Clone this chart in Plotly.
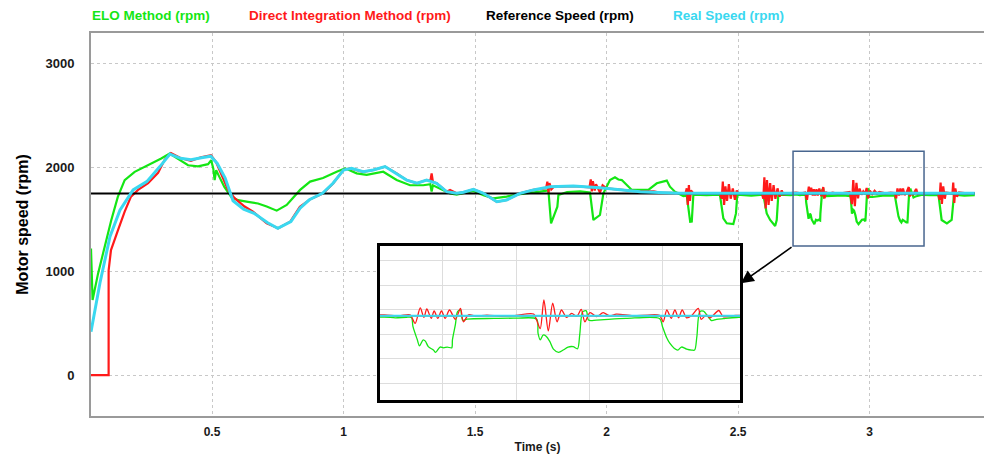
import plotly.graph_objects as go

# ---------------- data ----------------
elo_t = [0.040, 0.042, 0.046, 0.067, 0.092, 0.117, 0.142, 0.168, 0.206, 0.257, 0.307, 0.339, 0.371, 0.409,
         0.447, 0.485, 0.497, 0.505, 0.510, 0.516, 0.528, 0.547, 0.573, 0.599, 0.637, 0.675, 0.708, 0.746,
         0.784, 0.835, 0.873, 0.922, 0.974, 1.006, 1.050, 1.088, 1.151, 1.202, 1.253, 1.303, 1.330, 1.335,
         1.340, 1.379, 1.405, 1.430, 1.460, 1.494, 1.532, 1.570, 1.620, 1.671, 1.747, 1.779, 1.789, 1.800,
         1.813, 1.817, 1.850, 1.900, 1.937, 1.950, 1.962, 1.975, 1.988, 2.013, 2.032, 2.045, 2.058, 2.077,
         2.096, 2.127, 2.159, 2.191, 2.210, 2.229, 2.241, 2.260, 2.292, 2.305, 2.318, 2.324, 2.330, 2.380,
         2.431, 2.444, 2.457, 2.482, 2.492, 2.497, 2.550, 2.596, 2.609, 2.622, 2.641, 2.647, 2.653, 2.700,
         2.720, 2.735, 2.750, 2.757, 2.759, 2.765, 2.768, 2.773, 2.776, 2.780, 2.787, 2.790, 2.796, 2.801,
         2.806, 2.812, 2.813, 2.817, 2.820, 2.824, 2.827, 2.833, 2.870, 2.900, 2.928, 2.930, 2.933, 2.937,
         2.941, 2.946, 2.951, 2.958, 2.965, 2.971, 2.978, 2.984, 2.987, 2.991, 2.996, 2.999, 3.010, 3.050,
         3.096, 3.100, 3.106, 3.110, 3.116, 3.121, 3.126, 3.133, 3.140, 3.144, 3.147, 3.151, 3.156, 3.163,
         3.167, 3.174, 3.183, 3.201, 3.230, 3.262, 3.274, 3.294, 3.312, 3.321, 3.360, 3.400]
elo_v = [1220, 1050, 723, 980, 1236, 1493, 1718, 1879, 1959, 2023, 2088, 2136, 2088, 2023,
         2013, 2033, 2071, 1990, 1879, 1975, 1911, 1814, 1718, 1686, 1670, 1654, 1625, 1585,
         1640, 1785, 1865, 1900, 1960, 1993, 1945, 1930, 1960, 1880, 1830, 1830, 1840, 1770,
         1830, 1785, 1750, 1740, 1755, 1775, 1735, 1703, 1720, 1745, 1768, 1780, 1463, 1540,
         1623, 1736, 1765, 1770, 1760, 1495, 1515, 1543, 1752, 1880, 1906, 1885, 1880, 1832,
         1785, 1785, 1785, 1849, 1865, 1875, 1816, 1768, 1726, 1730, 1478, 1480, 1740, 1735,
         1740, 1511, 1463, 1455, 1558, 1740, 1730, 1740, 1558, 1495, 1437, 1495, 1740, 1735,
         1742, 1735, 1740, 1738, 1665, 1556, 1506, 1556, 1545, 1500, 1473, 1454, 1497, 1490,
         1497, 1490, 1556, 1680, 1785, 1799, 1715, 1725, 1730, 1732, 1725, 1608, 1556, 1595,
         1585, 1543, 1480, 1454, 1475, 1497, 1500, 1483, 1600, 1785, 1792, 1717, 1717, 1730,
         1730, 1665, 1570, 1528, 1488, 1472, 1497, 1480, 1472, 1472, 1580, 1785, 1790, 1740,
         1713, 1722, 1728, 1738, 1735, 1735, 1495, 1463, 1495, 1740, 1730, 1735]

di_t = [0.040, 0.107, 0.107, 0.116, 0.143, 0.168, 0.192, 0.219, 0.257, 0.295, 0.320, 0.344, 0.382, 0.420,
        0.458, 0.496, 0.515, 0.534, 0.561, 0.586, 0.624, 0.656, 0.708, 0.752, 0.797, 0.834, 0.873, 0.923,
        0.961, 0.999, 1.025, 1.075, 1.113, 1.158, 1.202, 1.240, 1.278, 1.316, 1.330, 1.335, 1.340, 1.354,
        1.392, 1.405, 1.430, 1.456, 1.494, 1.532, 1.583, 1.620, 1.671, 1.722, 1.770, 1.775, 1.779, 1.783,
        1.790, 1.800, 1.874, 1.935, 1.940, 1.944, 1.948, 1.955, 1.960, 1.975, 1.985, 2.000, 2.051, 2.128,
        2.180, 2.200, 2.280, 2.300, 2.305, 2.309, 2.313, 2.317, 2.321, 2.330, 2.430, 2.438, 2.442, 2.447,
        2.452, 2.458, 2.465, 2.472, 2.480, 2.488, 2.495, 2.500, 2.590, 2.596, 2.600, 2.605, 2.610, 2.616,
        2.622, 2.628, 2.635, 2.642, 2.650, 2.658, 2.666, 2.672, 2.700, 2.720, 2.740, 2.755, 2.762, 2.769,
        2.774, 2.778, 2.784, 2.788, 2.793, 2.798, 2.803, 2.809, 2.817, 2.824, 2.828, 2.835, 2.845, 2.860,
        2.880, 2.900, 2.924, 2.928, 2.933, 2.938, 2.944, 2.950, 2.956, 2.962, 2.969, 2.976, 2.983, 2.989,
        2.994, 3.001, 3.010, 3.019, 3.028, 3.037, 3.060, 3.080, 3.096, 3.101, 3.106, 3.112, 3.117, 3.122,
        3.127, 3.133, 3.140, 3.149, 3.153, 3.160, 3.165, 3.177, 3.183, 3.200, 3.230, 3.260, 3.266, 3.270,
        3.275, 3.280, 3.286, 3.290, 3.315, 3.318, 3.322, 3.326, 3.332, 3.340, 3.370, 3.400]
di_v = [0, 0, 1010, 1205, 1400, 1575, 1720, 1785, 1850, 1950, 2075, 2140, 2090, 2065,
        2100, 2120, 2055, 1945, 1785, 1705, 1625, 1575, 1463, 1415, 1478, 1623, 1694, 1752,
        1849, 1977, 1993, 1960, 1977, 2010, 1945, 1880, 1849, 1880, 1870, 1945, 1860, 1849,
        1768, 1785, 1752, 1762, 1790, 1752, 1671, 1688, 1752, 1785, 1800, 1865, 1760, 1850,
        1790, 1815, 1822, 1810, 1887, 1770, 1870, 1780, 1840, 1760, 1830, 1800, 1785, 1768,
        1770, 1760, 1755, 1750, 1800, 1640, 1832, 1680, 1780, 1750, 1755, 1700, 1865, 1640,
        1820, 1680, 1840, 1700, 1800, 1690, 1780, 1755, 1755, 1700, 1906, 1607, 1880, 1640,
        1850, 1680, 1830, 1700, 1800, 1720, 1780, 1740, 1755, 1760, 1752, 1760, 1690, 1816,
        1739, 1807, 1731, 1791, 1731, 1791, 1731, 1799, 1723, 1813, 1703, 1760, 1750, 1758,
        1748, 1756, 1766, 1717, 1648, 1881, 1628, 1854, 1703, 1799, 1739, 1772, 1747, 1804,
        1703, 1777, 1745, 1777, 1750, 1765, 1752, 1758, 1755, 1703, 1799, 1731, 1799, 1735,
        1799, 1735, 1755, 1813, 1723, 1760, 1735, 1795, 1745, 1755, 1752, 1755, 1690, 1855,
        1650, 1820, 1700, 1760, 1750, 1855, 1660, 1800, 1720, 1760, 1752, 1755]

ref_t = [0.040, 3.400]
ref_v = [1750, 1750]

real_t = [0.040, 0.074, 0.112, 0.150, 0.200, 0.252, 0.302, 0.340, 0.380, 0.420, 0.460, 0.495, 0.520,
          0.550, 0.580, 0.620, 0.660, 0.710, 0.750, 0.800, 0.835, 0.870, 0.920, 0.960, 1.000, 1.030,
          1.075, 1.113, 1.158, 1.200, 1.240, 1.280, 1.316, 1.354, 1.392, 1.430, 1.456, 1.494, 1.532,
          1.583, 1.620, 1.671, 1.722, 1.785, 1.874, 1.975, 2.051, 2.128, 2.200, 2.280, 2.400, 3.400]
real_v = [418, 887, 1334, 1590, 1785, 1865, 2010, 2130, 2090, 2075, 2095, 2110, 2040,
          1900, 1680, 1600, 1560, 1470, 1415, 1480, 1610, 1690, 1752, 1849, 1977, 1993,
          1960, 1977, 2010, 1945, 1880, 1849, 1880, 1849, 1768, 1752, 1762, 1790, 1752,
          1671, 1688, 1752, 1785, 1816, 1822, 1806, 1785, 1768, 1760, 1753, 1752, 1752]

series_names = ["ELO Method (rpm)", "Direct Integration Method (rpm)",
                "Reference Speed (rpm)", "Real Speed (rpm)"]
x_ticks = [0.5, 1, 1.5, 2, 2.5, 3]
x_tick_labels = ["0.5", "1", "1.5", "2", "2.5", "3"]
y_ticks = [0, 1000, 2000, 3000]
y_tick_labels = ["0", "1000", "2000", "3000"]
zoom_t = [2.709, 3.207]
zoom_v = [1243, 2158]

# ---------------- styling ----------------
GREEN = "#14e614"
RED = "#ff1a1a"
BLACK = "#000000"
CYAN = "#3ad8f0"
FONT = "Liberation Sans, Arial, sans-serif"

colors = [GREEN, RED, BLACK, CYAN]
data = [(elo_t, elo_v), (di_t, di_v), (ref_t, ref_v), (real_t, real_v)]
main_w = [2.2, 2.2, 2, 3]
inset_w = [1.3, 1.3, 1.5, 1.8]
inset_colors = [GREEN, RED, "#888888", CYAN]

fig = go.Figure()
for (t, v), c, w, n in zip(data, colors, main_w, series_names):
    fig.add_trace(go.Scatter(x=t, y=v, mode="lines", line=dict(color=c, width=w),
                             name=n, showlegend=False, xaxis="x", yaxis="y"))
for (t, v), c, w, n in zip(data, inset_colors, inset_w, series_names):
    fig.add_trace(go.Scatter(x=t, y=v, mode="lines",
                             line=dict(color=c, width=w, shape="spline", smoothing=0.8),
                             name=n, showlegend=False, xaxis="x2", yaxis="y2"))

L, R, T, B = 91, 0, 33, 39
W, H = 984, 455
pw, ph = W - L - R, H - T - B

def px_x(px):
    return (px - L) / pw

def px_y(py):
    return (H - B - py) / ph

fig.update_layout(
    width=W, height=H,
    margin=dict(l=L, r=R, t=T, b=B, autoexpand=False),
    paper_bgcolor="white", plot_bgcolor="white",
    xaxis=dict(range=[0.04, 3.435], tickvals=x_ticks, ticktext=x_tick_labels,
               showgrid=True, gridcolor="#c8c8c8", griddash="dot", gridwidth=1,
               zeroline=False, showline=True, linecolor="#9a9a9a", linewidth=2, mirror=True,
               ticks="outside", ticklen=4, tickcolor="rgba(0,0,0,0)",
               tickfont=dict(family=FONT, size=12, color="#1a1a1a", weight="bold"),
               title=dict(text="Time (s)", standoff=4,
                          font=dict(family=FONT, size=12, color="#1a1a1a", weight="bold")),
               domain=[0, 1]),
    yaxis=dict(range=[-395, 3298], tickvals=y_ticks, ticktext=y_tick_labels,
               showgrid=True, gridcolor="#c8c8c8", griddash="dot", gridwidth=1,
               zeroline=False, showline=True, linecolor="#9a9a9a", linewidth=2, mirror=False,
               ticks="outside", ticklen=12, tickcolor="rgba(0,0,0,0)",
               tickfont=dict(family=FONT, size=13, color="#1a1a1a", weight="bold"),
               title=dict(text="Motor speed (rpm)", standoff=13,
                          font=dict(family=FONT, size=16, color="#000000", weight="bold")),
               domain=[0, 1]),
    xaxis2=dict(domain=[px_x(380), px_x(740)], anchor="y2", range=[2.714, 3.206],
                tickvals=[2.8, 2.9, 3.0, 3.1], showticklabels=False,
                showgrid=True, gridcolor="#dddddd", gridwidth=1, zeroline=False,
                showline=True, linecolor="black", linewidth=3, mirror=True, ticks=""),
    yaxis2=dict(domain=[px_y(400), px_y(246)], anchor="x2", range=[1065, 2321],
                tickvals=[1200, 1400, 1600, 1800, 2000, 2200], showticklabels=False,
                showgrid=True, gridcolor="#dddddd", gridwidth=1, zeroline=False,
                showline=True, linecolor="black", linewidth=3, mirror=True, ticks=""),
)

# zoom rectangle on main chart
fig.add_shape(type="rect", xref="x", yref="y", x0=zoom_t[0], x1=zoom_t[1], y0=zoom_v[0], y1=zoom_v[1],
              line=dict(color="#48668f", width=1.5), fillcolor="rgba(0,0,0,0)", layer="above")

# arrow from rectangle to inset
fig.add_annotation(x=2.511, y=886, ax=zoom_t[0], ay=zoom_v[0], xref="x", yref="y", axref="x", ayref="y",
                   text="", showarrow=True, arrowhead=2, arrowsize=1.6, arrowwidth=1.6, arrowcolor="black")

# legend as coloured text
legend_px = [90, 247, 484, 671]
for name, c, p in zip(series_names, colors, legend_px):
    fig.add_annotation(x=px_x(p), y=px_y(16), xref="paper", yref="paper", text=name, showarrow=False,
                       xanchor="left", yanchor="middle",
                       font=dict(family=FONT, size=13.5, color=c, weight="bold"))

fig.write_html("out.html")
